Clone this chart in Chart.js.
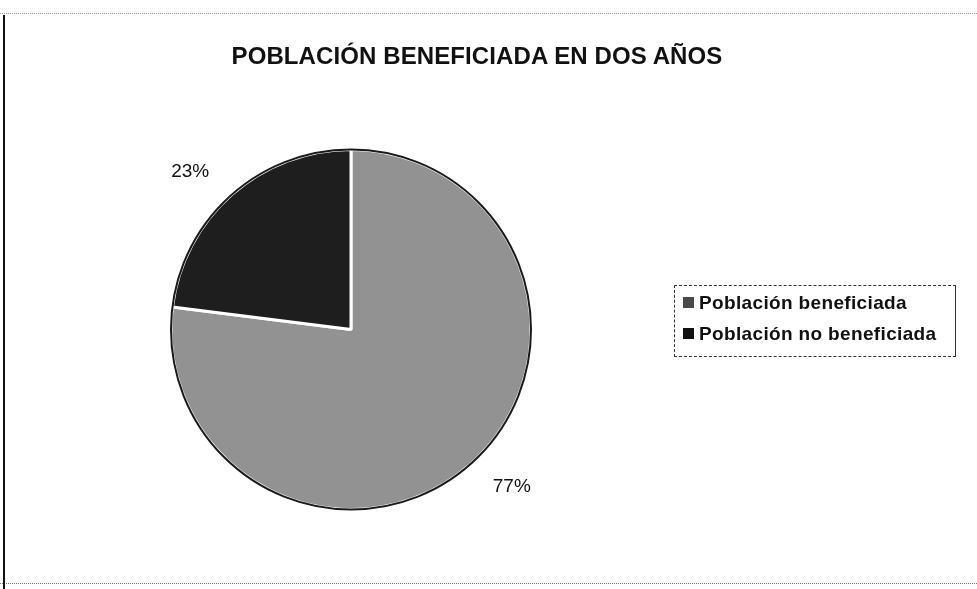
<!DOCTYPE html>
<html>
<head>
<meta charset="utf-8">
<script src="https://cdn.jsdelivr.net/npm/chart.js@4.4.1/dist/chart.umd.min.js"></script>
<style>
  html, body { margin:0; padding:0; background:#fff; }
  #wrap { position:relative; width:977px; height:589px; overflow:hidden; background:#fff; font-family:"Liberation Sans", Arial, sans-serif; }
  #c { position:absolute; left:0; top:0; }
  #title { position:absolute; left:0; width:954px; top:42px; text-align:center; font-weight:bold; font-size:24px; color:#111; letter-spacing:0.1px; }
  #legend { position:absolute; left:674px; top:285px; width:282px; height:72px; border:1px dashed #333; border-right:1px solid #333; box-sizing:border-box; padding:1px 0 0 8px; }
  .li { display:flex; align-items:center; height:31px; font-weight:bold; font-size:19px; letter-spacing:0.35px; color:#111; white-space:nowrap; }
  .sw { width:11px; height:11px; margin-right:5px; flex:none; }
  .fl { position:absolute; left:3px; top:15px; width:2px; height:580px; background:#111; }
  .ft { position:absolute; left:0; top:13px; width:977px; height:0; border-top:1px dotted #999; }
  .fb { position:absolute; left:0; top:583px; width:977px; height:0; border-top:1px dotted #777; }
</style>
</head>
<body>
<div id="wrap">
  <canvas id="c" width="977" height="589"></canvas>
  <div class="ft"></div>
  <div class="fb"></div>
  <div class="fl"></div>
  <div id="title"></div>
  <div id="legend"></div>
</div>
<script>
const titleText = "POBLACIÓN BENEFICIADA EN DOS AÑOS";
const categories = ["Población beneficiada", "Población no beneficiada"];
const values = [77, 23];
const sliceColors = ["#929292", "#1e1e1e"];
const legendColors = ["#4a4a4a", "#111111"];

document.getElementById('title').textContent = titleText;
const lg = document.getElementById('legend');
categories.forEach((name, i) => {
  const row = document.createElement('div');
  row.className = 'li';
  const sw = document.createElement('span');
  sw.className = 'sw';
  sw.style.background = legendColors[i];
  const tx = document.createElement('span');
  tx.textContent = name;
  row.appendChild(sw); row.appendChild(tx);
  lg.appendChild(row);
});

const outlineAndLabels = {
  id: 'outlineAndLabels',
  afterDatasetsDraw(chart) {
    const ctx = chart.ctx;
    const meta = chart.getDatasetMeta(0);
    const total = values.reduce((a, b) => a + b, 0);
    const first = meta.data[0];
    ctx.save();
    ctx.beginPath();
    ctx.arc(first.x, first.y, first.outerRadius, 0, Math.PI * 2);
    ctx.lineWidth = 2;
    ctx.strokeStyle = '#1a1a1a';
    ctx.stroke();
    ctx.font = '19px "Liberation Sans", Arial, sans-serif';
    ctx.fillStyle = '#111';
    ctx.textAlign = 'center';
    ctx.textBaseline = 'middle';
    const shift = -4.2 * Math.PI / 180;
    meta.data.forEach((arc, i) => {
      const mid = (arc.startAngle + arc.endAngle) / 2 + shift;
      const r = arc.outerRadius * 1.25;
      const x = arc.x + Math.cos(mid) * r;
      const y = arc.y + Math.sin(mid) * r;
      ctx.fillText(Math.round(values[i] / total * 100) + '%', x, y);
    });
    ctx.restore();
  }
};

new Chart(document.getElementById('c'), {
  type: 'pie',
  data: {
    labels: categories,
    datasets: [{
      data: values,
      backgroundColor: sliceColors,
      borderColor: '#ffffff',
      borderWidth: 3
    }]
  },
  options: {
    responsive: false,
    animation: false,
    layout: { padding: { left: 169, right: 444, top: 148, bottom: 78 } },
    plugins: {
      legend: { display: false },
      title: { display: false },
      tooltip: { enabled: false }
    }
  },
  plugins: [outlineAndLabels]
});
</script>
</body>
</html>
